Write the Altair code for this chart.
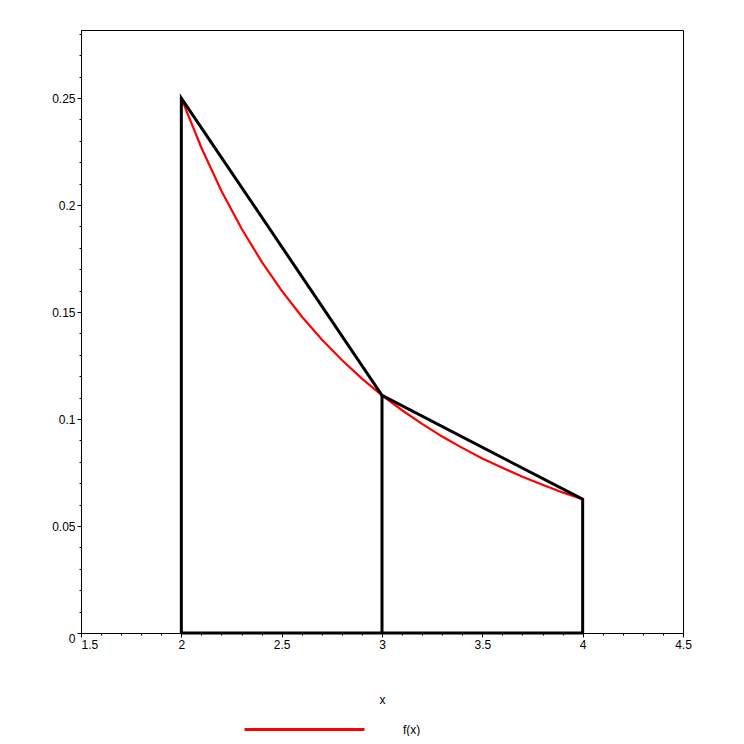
import altair as alt
import pandas as pd

# f(x) curve
curve_x = [2.0, 2.1, 2.2, 2.3, 2.4, 2.5, 2.6, 2.7, 2.8, 2.9, 3.0,
           3.1, 3.2, 3.3, 3.4, 3.5, 3.6, 3.7, 3.8, 3.9, 4.0]
curve_y = [0.25, 0.2268, 0.2066, 0.1890, 0.1736, 0.16, 0.1479, 0.1372, 0.1276, 0.1189, 0.1111,
           0.1041, 0.0977, 0.0918, 0.0865, 0.0816, 0.0772, 0.0730, 0.0693, 0.0657, 0.0625]

# trapezoid outline (black)
trap_x = [2, 2, 3, 4, 4, 2, 3, 3]
trap_y = [0, 0.25, 0.1111, 0.0625, 0, 0, 0, 0.1111]
trap_seg = ["outer"] * 6 + ["mid"] * 2
trap_ord = [0, 1, 2, 3, 4, 5, 0, 1]

x_ticks = [round(1.5 + 0.1 * i, 1) for i in range(31)]
y_ticks = [round(0.01 * i, 2) for i in range(29)]

curve = pd.DataFrame({"x": curve_x, "y": curve_y, "s": ["f(x)"] * len(curve_x)})
trap = pd.DataFrame({"x": trap_x, "y": trap_y, "seg": trap_seg, "ord": trap_ord})

FONT = "Liberation Sans"

x_major = "abs(datum.value*2 - round(datum.value*2)) < 0.000001"
y_major = "abs(datum.value*20 - round(datum.value*20)) < 0.000001"

xscale = alt.Scale(domain=[1.5, 4.5], nice=False, zero=False)
yscale = alt.Scale(domain=[0, 0.2818], nice=False, zero=False)

xaxis = alt.Axis(
    values=x_ticks, grid=False, title="x",
    labelExpr=f"({x_major}) ? format(datum.value, '') : ''",
    tickSize={"condition": {"test": x_major, "value": 4}, "value": 2},
    labelAlign={"condition": {"test": "datum.value < 1.55", "value": "left"}, "value": "center"},
    labelOverlap=False, labelFlush=False, labelBound=False,
    labelPadding=2, labelFont=FONT, labelFontSize=12, labelColor="black",
    tickColor="black", domainColor="black",
    titleFont=FONT, titleFontSize=12, titleFontWeight="normal", titleColor="black",
    titlePadding=44,
)
yaxis = alt.Axis(
    values=y_ticks, grid=False, title=None,
    labelExpr=f"({y_major}) ? format(datum.value, '') : ''",
    tickSize={"condition": {"test": y_major, "value": 4}, "value": 2},
    labelBaseline={"condition": {"test": "datum.value < 0.001", "value": "top"}, "value": "middle"},
    labelOverlap=False, labelFlush=False, labelBound=False,
    labelPadding=2, labelFont=FONT, labelFontSize=12, labelColor="black",
    tickColor="black", domainColor="black",
)

red = alt.Chart(curve).mark_line(strokeWidth=2.2).encode(
    x=alt.X("x:Q", scale=xscale, axis=xaxis),
    y=alt.Y("y:Q", scale=yscale, axis=yaxis),
    color=alt.Color("s:N", scale=alt.Scale(domain=["f(x)"], range=["#ff0000"]),
                    legend=alt.Legend(
                        title=None, orient="none", legendX=162, legendY=638,
                        symbolType="stroke", symbolSize=14400, symbolStrokeWidth=3,
                        labelOffset=37, labelFont=FONT, labelFontSize=12,
                        labelColor="black", padding=0)),
)

black = alt.Chart(trap).mark_line(strokeWidth=3, color="black", strokeJoin="miter").encode(
    x=alt.X("x:Q", scale=xscale, axis=xaxis),
    y=alt.Y("y:Q", scale=yscale, axis=yaxis),
    detail="seg:N",
    order="ord:Q",
)

chart = alt.layer(red, black).properties(
    width=602, height=603,
    autosize=alt.AutoSizeParams(type="none"),
    padding={"left": 73, "top": 22, "right": 53, "bottom": 103},
    background="white",
).configure_view(stroke="black", strokeWidth=1).configure_axis(labelOverlap=False)

chart.save("out.html", embed_options={"renderer": "svg", "actions": False})
